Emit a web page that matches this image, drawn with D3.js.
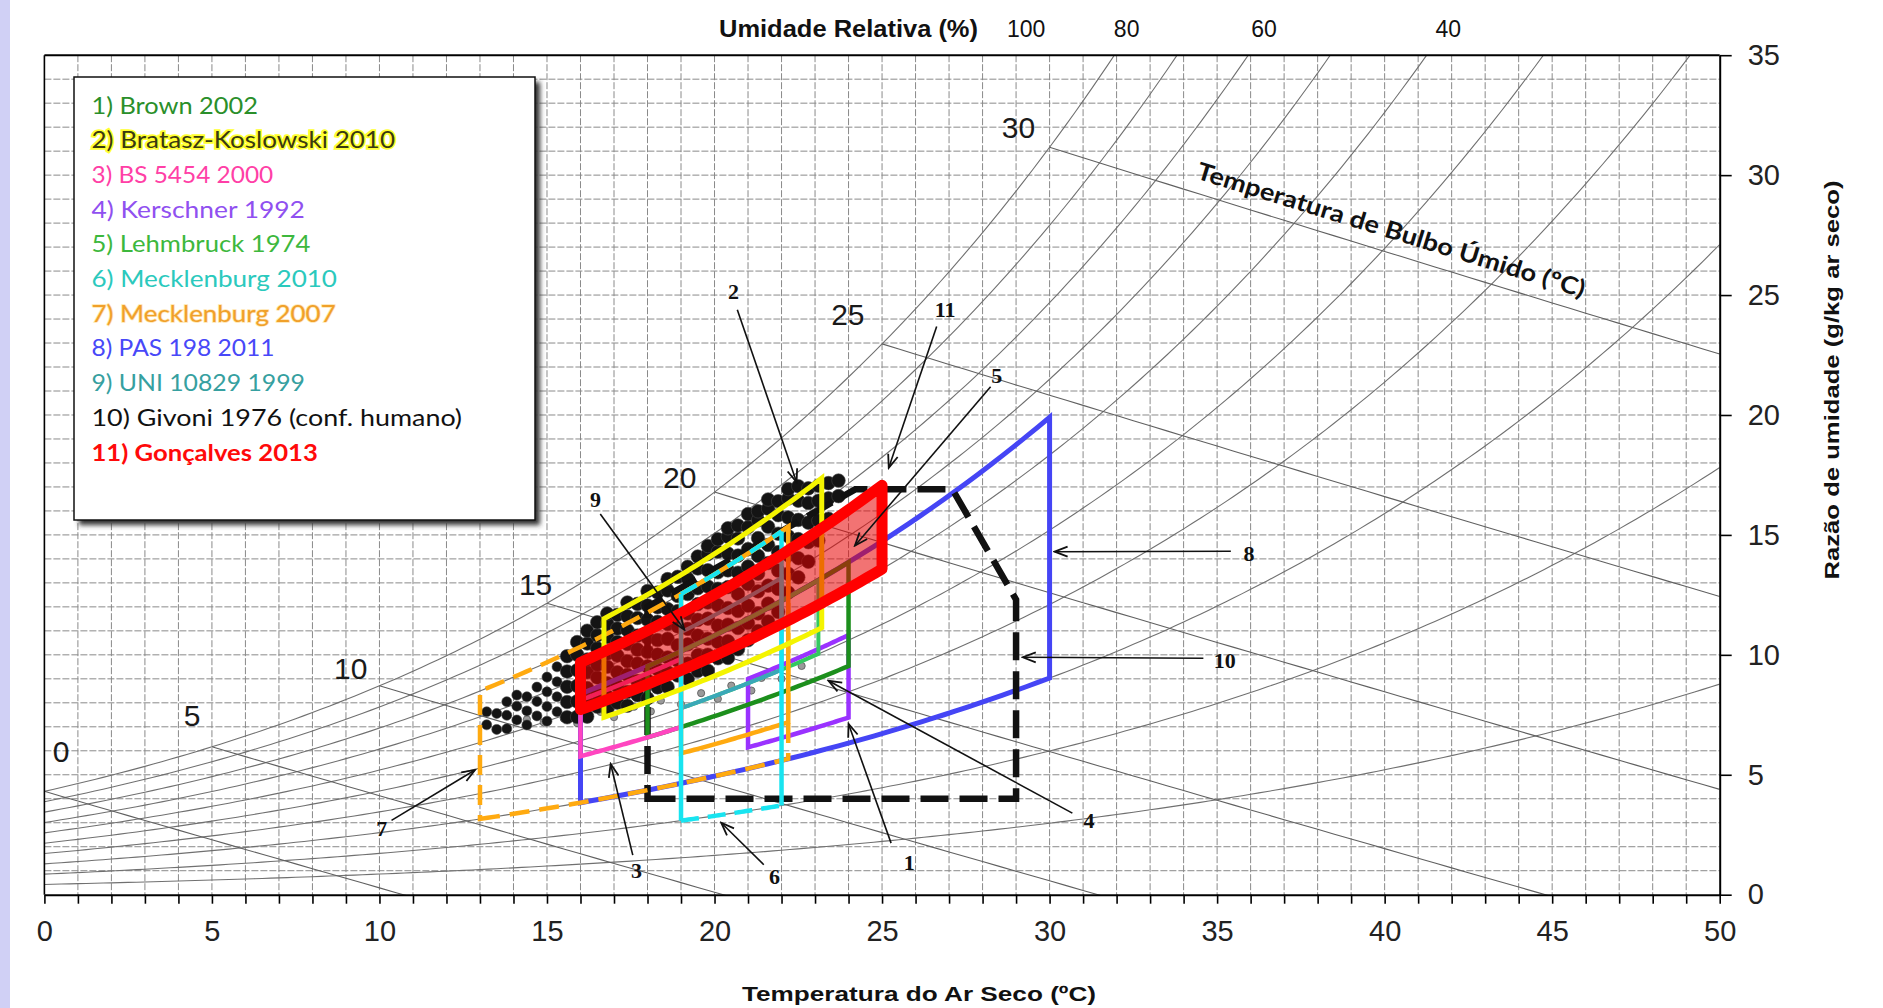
<!DOCTYPE html>
<html>
<head>
<meta charset="utf-8">
<script src="https://cdn.jsdelivr.net/npm/d3@7"></script>
<style>
  body { margin: 0; background: #fff; }
  svg { display: block; }
</style>
</head>
<body>
<svg id="chart" width="1883" height="1008"></svg>
<script>
// ---- data ----
const pressure = 88.8; // kPa, chart drawn for altitude
const rhLevels = [10, 20, 30, 40, 50, 60, 70, 80, 90, 100];
const wetBulbLevels = [0, 5, 10, 15, 20, 25, 30];
const wbLabelT = [0.5, 4.41, 9.14, 14.66, 18.96, 23.98, 29.07];
const wbLabelW = [5.96, 7.46, 9.41, 12.92, 17.38, 24.19, 32.0];
const rhTopLabels = ["100", "80", "60", "40"];
const rhTopLabelT = [29.3, 32.3, 36.4, 41.9];
const xTickValues = d3.range(0, 51, 1);
const yTickValues = [0, 5, 10, 15, 20, 25, 30, 35];

// zones: id, temperature range, relative humidity range
const zoneIds   = [1, 2, 3, 4, 5, 6, 7, 8, 9, 11];
const zoneTmin  = [18, 16.7, 16, 21, 19, 19, 13, 16, 19, 16];
const zoneTmax  = [24, 23.2, 19, 24, 23.1, 22, 22.2, 30, 22, 25];
const zoneRHmin = [45, 55, 45, 35, 50, 20, 30, 30, 50, 60];
const zoneRHmax = [65, 85, 63, 51, 65, 80, 80, 65, 70, 75];
const meck07InnerT = [19, 22.2];
const meck07InnerRH = [38, 80];
const givoniT = [18, 29, 29, 27.1, 24.2, 18];
const givoniW = [4, 4, 12.3, 16.9, 16.9, 12];

// measured readings: temperature columns and the RH values seen in each
const readingsT = [13.2, 13.5, 13.8, 14.1, 14.4, 14.7, 15.0, 15.3, 15.6, 15.9, 16.2, 16.5, 16.8, 17.1,
  17.4, 17.7, 18.0, 18.3, 18.6, 18.9, 19.2, 19.5, 19.8, 20.1, 20.4, 20.7, 21.0, 21.3, 21.6, 21.9,
  22.2, 22.5, 22.8, 23.1, 23.4, 23.7];
const readingsRH = [
  [66, 71], [63, 69], [62, 67, 72], [64, 69, 73], [61, 66, 71], [63, 68, 73],
  [60, 65, 70, 75], [62, 67, 72, 77], [59, 64, 69, 74, 79], [58, 63, 68, 73, 78, 82],
  [57, 62, 66, 71, 75, 80, 84], [59, 63, 68, 72, 77, 81, 85], [57, 61, 65, 70, 74, 79, 83, 86],
  [58, 63, 67, 72, 76, 80, 84], [56, 60, 65, 69, 74, 78, 82, 86], [58, 62, 67, 71, 75, 80, 84],
  [56, 61, 65, 69, 73, 78, 82, 86], [58, 63, 67, 71, 76, 80, 84], [57, 61, 65, 70, 74, 78, 83, 86],
  [59, 63, 67, 72, 76, 80, 85], [57, 61, 66, 70, 74, 79, 83, 86], [58, 62, 67, 71, 75, 79, 84, 87],
  [57, 61, 65, 70, 74, 78, 82, 86, 88], [59, 63, 67, 72, 76, 80, 85, 88], [58, 62, 66, 70, 75, 79, 83, 87, 89],
  [59, 64, 68, 72, 77, 81, 85, 88], [60, 64, 68, 73, 77, 81, 86, 89], [61, 65, 70, 74, 78, 82, 86, 88],
  [62, 66, 70, 75, 79, 83, 87, 89], [63, 68, 72, 76, 80, 84, 87], [66, 70, 74, 78, 82, 86, 88],
  [68, 72, 76, 80, 84, 87], [70, 74, 78, 82, 85], [73, 77, 81, 84], [76, 80, 83], [79, 82]
];
const readingsGray = [
  [14.4,63],[14.9,60],[15.5,59],[15.9,56],[16.6,57],[17.0,54],[17.6,55],[18.1,52],[18.4,54],
  [19.0,51],[19.6,52],[20.1,49],[20.5,51],[21.1,48],[21.4,50],[22.0,48],[22.6,49]
];

// annotation numbers: label position, arrow start, arrow tip (T, W)
const annText   = ["2", "11", "5", "9", "8", "10", "4", "1", "6", "3", "7"];
const annLabelT = [20.57, 26.88, 28.42, 16.45, 35.95, 35.23, 31.18, 25.81, 21.79, 17.67, 10.07];
const annLabelW = [25.14, 24.39, 21.63, 16.47, 14.22, 9.76, 3.10, 1.35, 0.75, 1.00, 2.75];
const annStartT = [20.68, 26.63, 28.24, 16.59, 35.41, 34.59, 30.68, 25.27, 21.47, 17.56, 10.36];
const annStartW = [24.39, 23.69, 21.18, 15.87, 14.32, 9.86, 3.40, 2.15, 1.25, 1.65, 3.10];
const annTipT   = [22.45, 25.2, 24.19, 19.1, 30.15, 29.2, 23.4, 24.0, 20.2, 16.9, 12.85];
const annTipW   = [17.2, 17.8, 14.55, 11.05, 14.3, 9.9, 8.92, 7.12, 3.0, 5.45, 5.2];

const legendLabels = [
  "1) Brown 2002", "2) Bratasz-Koslowski 2010", "3) BS 5454  2000", "4) Kerschner  1992",
  "5) Lehmbruck 1974", "6) Mecklenburg 2010", "7) Mecklenburg 2007", "8) PAS 198  2011",
  "9) UNI 10829  1999", "10) Givoni 1976 (conf. humano)", "11) Gonçalves 2013"
];

// ---- styles ----
const legendColors = ["#2a8f2a", "#3a3a10", "#ff3fa6", "#9050f0", "#3db83d", "#2bc9bd",
                      "#f0a02a", "#4848f8", "#36a0a0", "#111111", "#ff0a0a"];
const legendWidths = [166.5, 303.6, 181.7, 213.4, 218.8, 245.5, 244.2, 183, 213.4, 370.5, 226.3];
const zoneStyle = {
  1: { c: "#1c8f1c", w: 4.5 },
  2: { c: "#f4f400", w: 5 },
  3: { c: "#ff45c0", w: 4.5 },
  4: { c: "#9a32ff", w: 4.5 },
  5: { c: "#34c860", w: 4 },
  6: { c: "#18e4f0", w: 4.5, dash: "18,9" },
  7: { c: "#ffaa10", w: 4.5, dash: "20,10" },
  8: { c: "#4545f5", w: 5 },
  9: { c: "#3aa8b8", w: 4 },
  11: { c: "#ff0000", w: 11 }
};

const svg = d3.select("#chart");
const x = d3.scaleLinear().domain([0, 50]).range([44.4, 1719.7]);
const y = d3.scaleLinear().domain([0, 35]).range([894.7, 55.2]);

function pws(t) { return 0.61094 * Math.exp(17.625 * t / (t + 243.04)); }
function humidityRatio(t, rh) {
  const pw = rh / 100 * pws(t);
  return 622 * pw / (pressure - pw);
}
function wetBulbRatio(t, twb) {
  const ps = pws(twb);
  const ws = 0.622 * ps / (pressure - ps);
  return 1000 * ((2501 - 2.326 * twb) * ws - 1.006 * (t - twb)) / (2501 + 1.86 * t - 4.186 * twb);
}
const line = d3.line().x(d => x(d[0])).y(d => y(d[1]));

const defs = svg.append("defs");
defs.append("clipPath").attr("id", "plot").append("rect")
  .attr("x", x(0)).attr("y", y(35)).attr("width", x(50) - x(0)).attr("height", y(0) - y(35));
defs.append("filter").attr("id", "blur").append("feGaussianBlur").attr("stdDeviation", 2.5);
defs.append("marker").attr("id", "arrow")
  .attr("viewBox", "-15 -8 17 16").attr("refX", 0).attr("refY", 0)
  .attr("markerWidth", 17).attr("markerHeight", 16)
  .attr("markerUnits", "userSpaceOnUse").attr("orient", "auto")
  .append("path").attr("d", "M-13,-5 L0,0 L-13,5")
  .attr("fill", "none").attr("stroke", "#111").attr("stroke-width", 1.8);

// page background strip
svg.append("rect").attr("x", 0).attr("y", 0).attr("width", 10).attr("height", 1008).attr("fill", "#d0d0f5");

// grid
const grid = svg.append("g").attr("stroke", "#8a8a8a").attr("stroke-width", 1).attr("stroke-dasharray", "7,2");
grid.selectAll(".gx").data(d3.range(1, 50)).join("line")
  .attr("x1", d => x(d)).attr("x2", d => x(d)).attr("y1", y(35)).attr("y2", y(0));
grid.selectAll(".gy").data(d3.range(1, 35)).join("line")
  .attr("x1", x(0)).attr("x2", x(50)).attr("y1", d => y(d)).attr("y2", d => y(d));

// psychrometric curves
const curves = svg.append("g").attr("clip-path", "url(#plot)").attr("fill", "none");
curves.selectAll(".rh").data(rhLevels).join("path")
  .attr("d", rh => line(d3.range(0, 50.01, 0.25).map(t => [t, humidityRatio(t, rh)])))
  .attr("stroke", "#707070").attr("stroke-width", 1.1);
curves.selectAll(".wb").data(wetBulbLevels).join("path")
  .attr("d", twb => line(d3.range(twb, 50.01, 0.5).map(t => [t, wetBulbRatio(t, twb)])))
  .attr("stroke", "#606060").attr("stroke-width", 1.1);

// wet bulb labels
svg.append("g").selectAll("text").data(wetBulbLevels).join("text")
  .attr("x", (d, i) => x(wbLabelT[i])).attr("y", (d, i) => y(wbLabelW[i]))
  .attr("text-anchor", "middle").attr("dominant-baseline", "central")
  .attr("font-family", "Liberation Sans, Arial").attr("font-size", 30).attr("fill", "#1a1a1a")
  .text(d => d);

// wet bulb axis title along the 30 line
{
  const tc = 40.0;
  const ang = Math.atan2(y(wetBulbRatio(tc + 1, 30)) - y(wetBulbRatio(tc - 1, 30)), x(tc + 1) - x(tc - 1)) * 180 / Math.PI;
  svg.append("text")
    .attr("transform", `translate(${x(tc)},${y(wetBulbRatio(tc, 30))}) rotate(${ang})`)
    .attr("y", -14).attr("text-anchor", "middle")
    .attr("font-family", "Lato, Open Sans, sans-serif").attr("font-weight", "bold").attr("font-size", 24)
    .attr("textLength", 405).attr("lengthAdjust", "spacingAndGlyphs").attr("fill", "#111")
    .text("Temperatura de Bulbo Úmido (ºC)");
}

// readings
const blackReadings = readingsT.flatMap((t, i) => readingsRH[i].map(rh => [t, rh]));
const dots = svg.append("g").attr("clip-path", "url(#plot)");
dots.selectAll(".g").data(readingsGray).join("circle")
  .attr("cx", d => x(d[0])).attr("cy", d => y(humidityRatio(d[0], d[1]))).attr("r", 3.6)
  .attr("fill", "#9a9a9a").attr("stroke", "#555").attr("stroke-width", 0.8);
dots.selectAll(".b").data(blackReadings).join("circle")
  .attr("cx", d => x(d[0])).attr("cy", d => y(humidityRatio(d[0], d[1]))).attr("r", d => d[0] < 15.5 ? 5 : 6.8)
  .attr("fill", "#141414").attr("stroke", "#444").attr("stroke-width", 0.6);

// zones
function rhEdge(t0, t1, rh) {
  return d3.range(0, 41).map(i => { const t = t0 + (t1 - t0) * i / 40; return [t, humidityRatio(t, rh)]; });
}
function zonePolygon(t0, t1, r0, r1) {
  return rhEdge(t0, t1, r0).concat(rhEdge(t0, t1, r1).reverse());
}
const zones = svg.append("g").attr("fill", "none").attr("stroke-linejoin", "miter");
function drawZone(id) {
  const i = zoneIds.indexOf(id);
  const s = zoneStyle[id];
  const t0 = zoneTmin[i], t1 = zoneTmax[i], r0 = zoneRHmin[i], r1 = zoneRHmax[i];
  if (id === 6) {
    // sides solid, top and bottom dashed
    zones.append("path").attr("d", line([[t0, humidityRatio(t0, r0)], [t0, humidityRatio(t0, r1)]]))
      .attr("stroke", s.c).attr("stroke-width", s.w);
    zones.append("path").attr("d", line([[t1, humidityRatio(t1, r0)], [t1, humidityRatio(t1, r1)]]))
      .attr("stroke", s.c).attr("stroke-width", s.w);
    [r0, r1].forEach(r => zones.append("path").attr("d", line(rhEdge(t0, t1, r)))
      .attr("stroke", s.c).attr("stroke-width", s.w).attr("stroke-dasharray", s.dash));
    return;
  }
  if (id === 7) {
    zones.append("path").attr("d", line(zonePolygon(meck07InnerT[0], meck07InnerT[1], meck07InnerRH[0], meck07InnerRH[1])) + "Z")
      .attr("stroke", s.c).attr("stroke-width", s.w);
    zones.append("path").attr("d", line(zonePolygon(t0, t1, r0, r1)) + "Z")
      .attr("stroke", s.c).attr("stroke-width", s.w).attr("stroke-dasharray", s.dash);
    return;
  }
  const p = zones.append("path").attr("d", line(zonePolygon(t0, t1, r0, r1)) + "Z")
    .attr("stroke", s.c).attr("stroke-width", s.w);
  if (id === 11) {
    p.attr("fill", "#e80000").attr("fill-opacity", 0.55).attr("stroke-linejoin", "round");
  }
}
drawZone(8);
zones.append("path").attr("d", line(givoniT.map((t, i) => [t, givoniW[i]])) + "Z")
  .attr("stroke", "#111").attr("stroke-width", 6.5).attr("stroke-dasharray", "28,11");
[4, 1, 5, 9, 3, 7, 6, 2, 11].forEach(drawZone);

// annotations
const ann = svg.append("g");
ann.selectAll("line").data(annText).join("line")
  .attr("x1", (d, i) => x(annStartT[i])).attr("y1", (d, i) => y(annStartW[i]))
  .attr("x2", (d, i) => x(annTipT[i])).attr("y2", (d, i) => y(annTipW[i]))
  .attr("stroke", "#111").attr("stroke-width", 1.6).attr("marker-end", "url(#arrow)");
ann.selectAll("text").data(annText).join("text")
  .attr("x", (d, i) => x(annLabelT[i])).attr("y", (d, i) => y(annLabelW[i]))
  .attr("text-anchor", "middle").attr("dominant-baseline", "central")
  .attr("font-family", "Liberation Serif, DejaVu Serif, serif").attr("font-weight", "bold").attr("font-size", 22)
  .attr("fill", "#111").text(d => d);

// axes
const xAxis = svg.append("g").attr("transform", `translate(0,${y(0)})`)
  .call(d3.axisBottom(x).tickValues(xTickValues).tickSize(9).tickSizeOuter(0).tickPadding(17)
    .tickFormat(d => d % 5 === 0 ? d : ""));
const yAxis = svg.append("g").attr("transform", `translate(${x(50)},0)`)
  .call(d3.axisRight(y).tickValues(yTickValues).tickSize(12).tickSizeOuter(0).tickPadding(16));
[xAxis, yAxis].forEach(a => {
  a.select(".domain").attr("stroke", "#000").attr("stroke-width", 2);
  a.selectAll(".tick line").attr("stroke", "#000").attr("stroke-width", 1.6);
  a.selectAll("text").attr("font-family", "Liberation Sans, Arial").attr("font-size", 29).attr("fill", "#222");
});
// top and left frame
svg.append("line").attr("x1", x(0)).attr("x2", x(50)).attr("y1", y(35)).attr("y2", y(35))
  .attr("stroke", "#000").attr("stroke-width", 2);
svg.append("line").attr("x1", x(0)).attr("x2", x(0)).attr("y1", y(35)).attr("y2", y(0))
  .attr("stroke", "#000").attr("stroke-width", 1.6);

// titles
svg.append("text").attr("x", 719).attr("y", 37)
  .attr("font-family", "Liberation Sans Narrow, Liberation Sans, Arial").attr("font-weight", "bold")
  .attr("font-size", 23).attr("textLength", 259).attr("lengthAdjust", "spacingAndGlyphs").attr("fill", "#111")
  .text("Umidade Relativa (%)");
svg.append("g").selectAll("text").data(rhTopLabels).join("text")
  .attr("x", (d, i) => x(rhTopLabelT[i])).attr("y", 37).attr("text-anchor", "middle")
  .attr("font-family", "Liberation Sans Narrow, Liberation Sans, Arial").attr("font-size", 23).attr("fill", "#111")
  .text(d => d);
svg.append("text").attr("x", 919).attr("y", 1001).attr("text-anchor", "middle")
  .attr("font-family", "Liberation Sans, Arial").attr("font-weight", "bold").attr("font-size", 21)
  .attr("textLength", 354).attr("lengthAdjust", "spacingAndGlyphs").attr("fill", "#111")
  .text("Temperatura do Ar Seco (ºC)");
svg.append("text").attr("transform", "translate(1831,380) rotate(-90)")
  .attr("text-anchor", "middle").attr("dominant-baseline", "central")
  .attr("font-family", "Liberation Sans, Arial").attr("font-weight", "bold").attr("font-size", 21)
  .attr("textLength", 399).attr("lengthAdjust", "spacingAndGlyphs").attr("fill", "#111")
  .text("Razão de umidade (g/kg ar seco)");

// legend
const lg = svg.append("g");
lg.append("rect").attr("x", 79).attr("y", 82).attr("width", 461).attr("height", 443)
  .attr("fill", "#333").attr("filter", "url(#blur)");
lg.append("rect").attr("x", 74).attr("y", 77).attr("width", 461).attr("height", 443)
  .attr("fill", "#fff").attr("stroke", "#111").attr("stroke-width", 1.5);
lg.selectAll("text").data(legendLabels).join("text")
  .attr("x", 91.5).attr("y", (d, i) => 104.5 + i * 34.7).attr("dominant-baseline", "central")
  .attr("font-family", "Lato, Open Sans, sans-serif").attr("font-size", 23)
  .attr("font-weight", (d, i) => i === 10 ? "bold" : "normal")
  .attr("textLength", (d, i) => legendWidths[i]).attr("lengthAdjust", "spacingAndGlyphs")
  .attr("fill", (d, i) => legendColors[i])
  .attr("stroke", (d, i) => i === 1 ? "#ffff30" : (i === 6 ? "#ffe6b0" : "none"))
  .attr("stroke-width", (d, i) => i === 1 ? 3.5 : 1.5)
  .attr("paint-order", "stroke")
  .text(d => d);
</script>
</body>
</html>
